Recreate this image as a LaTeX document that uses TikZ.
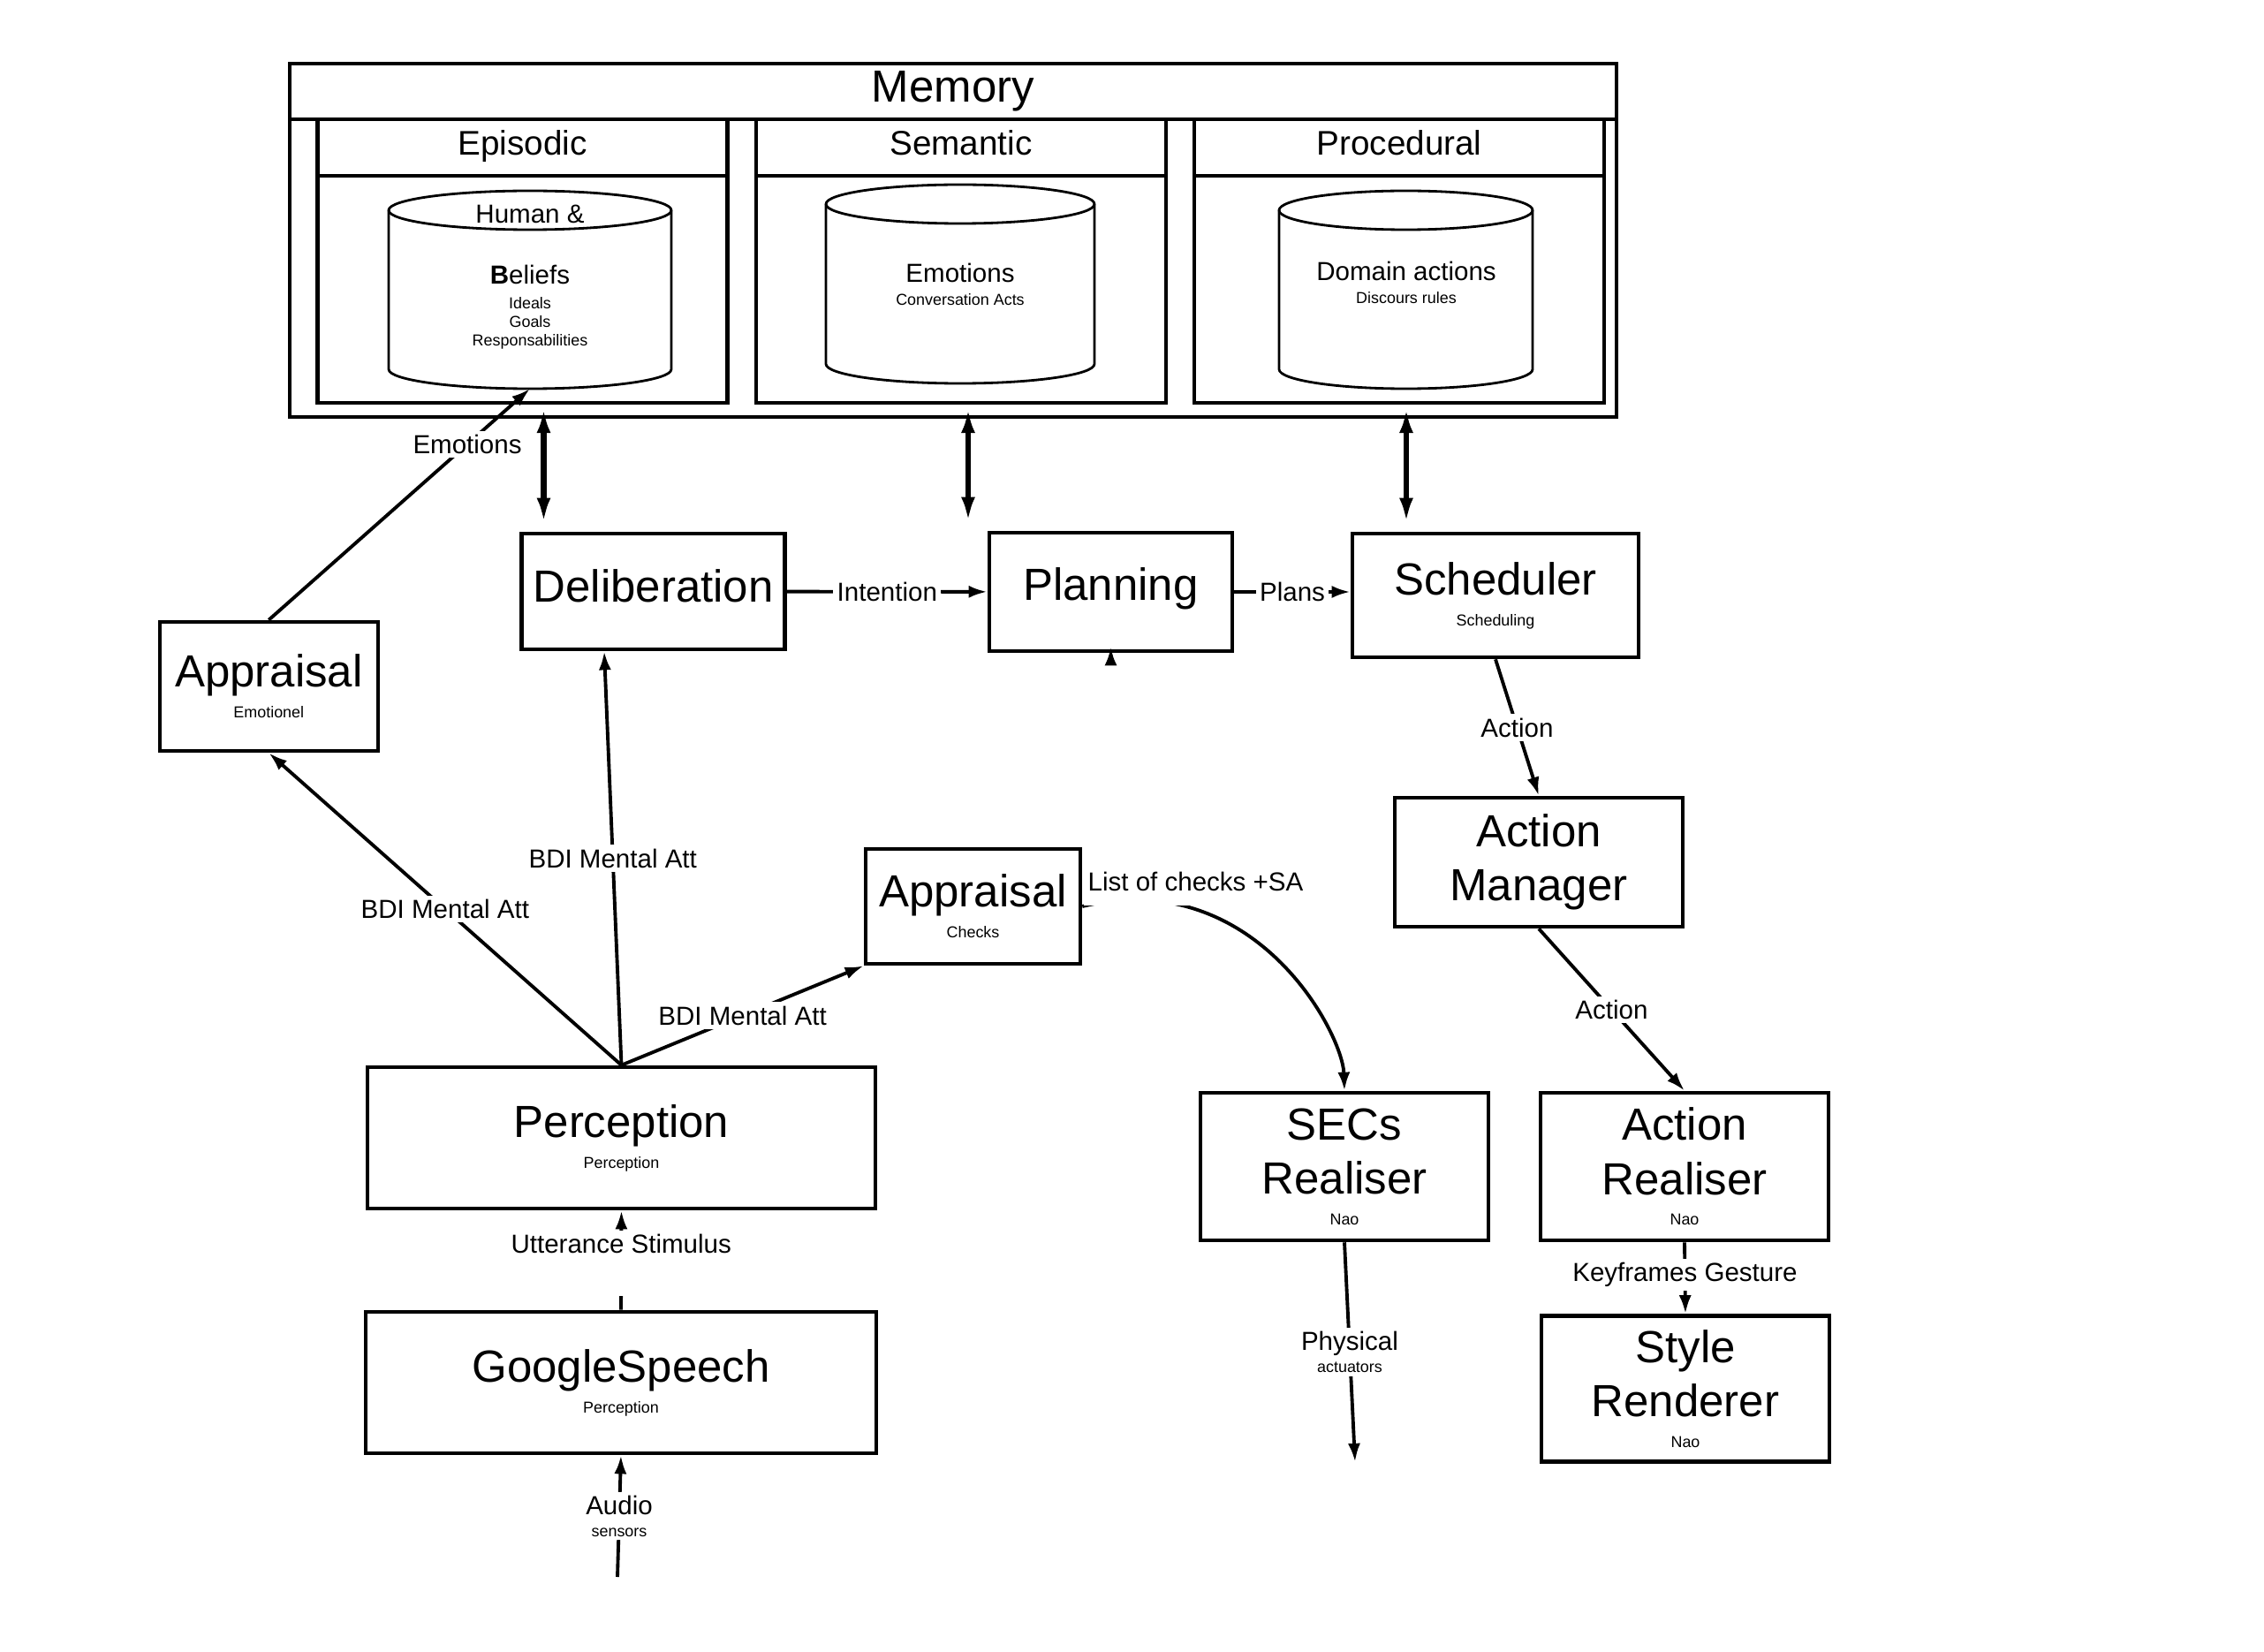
\documentclass[tikz,border=0pt]{standalone}
\usepackage{fontspec}
\setmainfont{Liberation Sans}
\usetikzlibrary{arrows.meta}

\newcommand{\bigtxt}{\fontsize{14.5}{17.4}\selectfont}
\newcommand{\headtxt}{\fontsize{11}{13}\selectfont}
\newcommand{\midtxt}{\fontsize{8.4}{10}\selectfont}
\newcommand{\smalltxt}{\fontsize{5.1}{6.1}\selectfont}

\tikzset{
  unit/.style={draw, line width=1.3pt, inner sep=0pt, align=center, font=\bigtxt},
  frame/.style={draw, line width=1.3pt, inner sep=0pt},
  drum/.style={line width=0.8pt},
  flow/.style={->, line width=1.1pt},
  link/.style={<->, line width=1.8pt, shorten >=1mm, >={Latex[length=8pt,width=4.5pt]}},
  lbl/.style={fill=white, inner sep=1.2pt, font=\midtxt, align=center}
}

\begin{document}
\begin{tikzpicture}[>={Latex[length=6pt,width=4pt]}]
  \useasboundingbox (0,0) rectangle (25.63,18.69);

  % memory block
  \node[frame, minimum width=15.02cm, minimum height=4cm] (mem) at (10.79,15.97) {};
  \node[frame, minimum width=15.02cm, minimum height=0.63cm, font=\bigtxt] (memT) at (10.79,17.655) {Memory};
  \foreach \nm/\x/\ttl in {epi/5.915/Episodic, sem/10.88/Semantic, proc/15.84/Procedural}{
    \node[frame, minimum width=4.64cm, minimum height=0.64cm, font=\headtxt, text height=0.72em, text depth=0.21em] (\nm H) at (\x,17.02) {\ttl};
    \node[frame, minimum width=4.64cm, minimum height=2.57cm] (\nm B) at (\x,15.415) {};
  }
  % stores
  \foreach \cx/\top/\bot/\r in {6.00/16.53/14.29/1.60, 10.87/16.60/14.35/1.52, 15.915/16.53/14.29/1.435}{
    \draw[drum] (\cx-\r,\top-0.22) -- (\cx-\r,\bot+0.22)
      arc[start angle=180, end angle=360, x radius=\r, y radius=0.22] -- (\cx+\r,\top-0.22)
      arc[start angle=0, end angle=180, x radius=\r, y radius=0.22] -- cycle;
    \draw[drum] (\cx-\r,\top-0.22) arc[start angle=180, end angle=360, x radius=\r, y radius=0.22];
  }
  \coordinate (epiC) at (6.00,14.29);
  \node[font=\midtxt] (epiT) at (6.00,16.27) {Human \&};
  \node[font=\smalltxt, align=center] (epiL) at (6.00,15.21) {{\midtxt\textbf{B}eliefs}\\[1.7pt]Ideals\\Goals\\Responsabilities};
  \node[font=\smalltxt, align=center] (semL) at (10.87,15.47) {{\midtxt Emotions}\\[1.3pt]Conversation Acts};
  \node[font=\smalltxt, align=center] (procL) at (15.92,15.49) {{\midtxt Domain actions}\\[1.4pt]Discours rules};

  % modules
  \node[unit, minimum width=2.98cm, minimum height=1.31cm, text depth=1.3mm] (delib) at (7.396,11.995) {Deliberation};
  \node[unit, minimum width=2.75cm, minimum height=1.34cm, text depth=1.7mm] (plan) at (12.575,11.99) {Planning};
  \node[unit, minimum width=3.24cm, minimum height=1.40cm] (sched) at (16.93,11.95) {Scheduler\\[-7.5pt]{\smalltxt Scheduling}};
  \node[unit, minimum width=2.47cm, minimum height=1.46cm] (appE) at (3.043,10.92) {Appraisal\\[-7.5pt]{\smalltxt Emotionel}};
  \node[unit, minimum width=2.43cm, minimum height=1.30cm] (appC) at (11.015,8.43) {Appraisal\\[-7.5pt]{\smalltxt Checks}};
  \node[unit, minimum width=3.26cm, minimum height=1.46cm] (actM) at (17.42,8.93) {Action\\Manager};
  \node[unit, minimum width=5.75cm, minimum height=1.60cm] (percep) at (7.035,5.81) {Perception\\[-7.5pt]{\smalltxt Perception}};
  \node[unit, minimum width=5.78cm, minimum height=1.60cm] (gspeech) at (7.03,3.04) {GoogleSpeech\\[-7.5pt]{\smalltxt Perception}};
  \node[unit, minimum width=3.26cm, minimum height=1.67cm] (secs) at (15.22,5.485) {SECs\\Realiser\\[-7.5pt]{\smalltxt Nao}};
  \node[unit, minimum width=3.26cm, minimum height=1.67cm] (actR) at (19.07,5.485) {Action\\Realiser\\[-7.5pt]{\smalltxt Nao}};
  \node[unit, minimum width=3.26cm, minimum height=1.65cm] (styleR) at (19.08,2.97) {Style\\Renderer\\[-7.5pt]{\smalltxt Nao}};

  % memory access
  \coordinate (m1) at (6.155,14.07);
  \coordinate (m2) at (10.96,14.07);
  \coordinate (m3) at (15.92,14.07);
  \draw[link] (m1) -- (m1 |- delib.north);
  \draw[link] (m2) -- (m2 |- plan.north);
  \draw[link] (m3) -- (m3 |- sched.north);

  \draw[flow] (appE.north) -- node[lbl, pos=.76] (lEmo) {Emotions} (epiC);
  \draw[flow] (delib) -- node[lbl] (lInt) {Intention} (plan);
  \draw[flow] (plan.east) -- node[lbl] (lPlan) {Plans} (plan.east -| sched.west);
  \coordinate (pStub) at (12.575,11.20);
  \draw[flow] (pStub) -- ([yshift=0.7mm]plan.south);

  \coordinate (dIn) at ([xshift=-5.56mm]delib.south);
  \foreach \to/\nm in {appE.south/lBdi1, dIn/lBdi2, appC.south west/lBdi3}
    \draw[flow] (percep.north) -- node[lbl] (\nm) {BDI Mental Att} (\to);

  \draw[flow] (appC.east) .. controls (14.2,8.9) and (15.2,7.0) .. node[lbl, pos=.25, yshift=2.55mm, text depth=1.3mm] (lChk) {List of checks +SA} (secs.north);

  \draw[flow] (sched.south) -- node[lbl] (lAct1) {Action} (actM.north);
  \draw[flow] (actM.south) -- node[lbl] (lAct2) {Action} (actR.north);
  \draw[flow] (actR.south) -- node[lbl, pos=.45] (lKey) {Keyframes Gesture} (styleR.north);
  \coordinate (outP) at (15.34,2.14);
  \draw[flow] (secs.south) -- node[lbl] (lPhys) {Physical\\[-3pt]{\smalltxt actuators}} (outP);

  \draw[flow] (gspeech.north) -- node[lbl, pos=.47, text depth=4.4mm] (lUtt) {Utterance Stimulus} (percep.south);
  \coordinate (inA) at (6.99,0.84);
  \draw[flow] (inA) -- node[lbl] (lAud) {Audio\\[-3pt]{\smalltxt sensors}} (gspeech.south);
\end{tikzpicture}
\end{document}
